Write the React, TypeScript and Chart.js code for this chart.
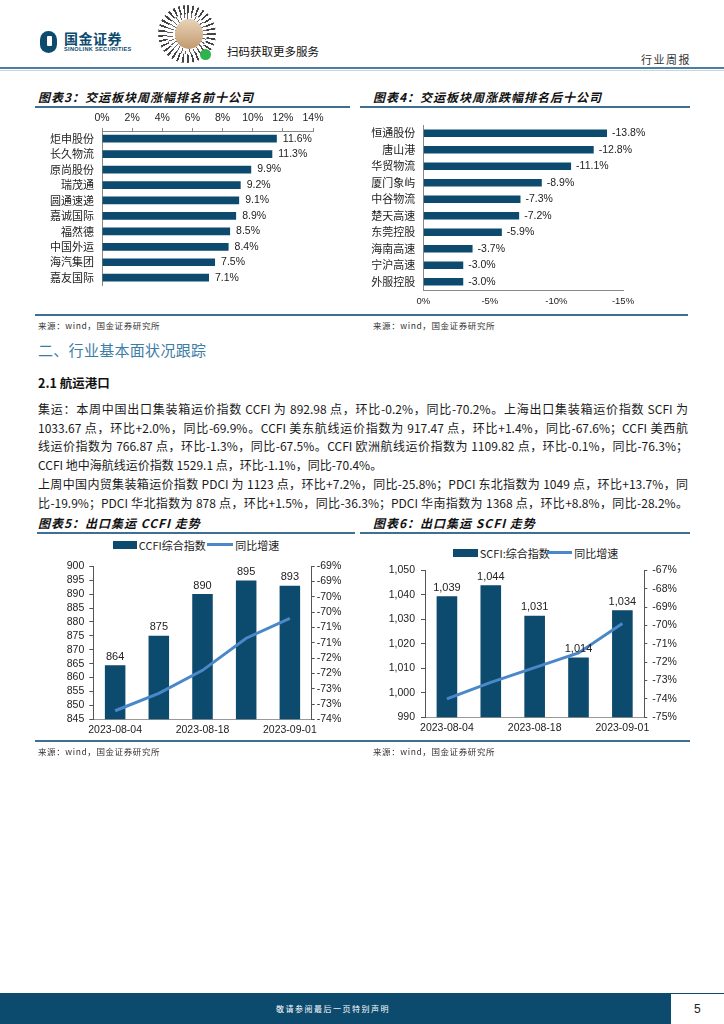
import React, { useEffect, useRef } from 'react';
import { Chart, registerables } from 'chart.js';

Chart.register(...registerables);

// ---------- data ----------
const topNames = ['炬申股份', '长久物流', '原尚股份', '瑞茂通', '圆通速递', '嘉诚国际', '福然德', '中国外运', '海汽集团', '嘉友国际'];
const topValues = [11.6, 11.3, 9.9, 9.2, 9.1, 8.9, 8.5, 8.4, 7.5, 7.1];

const bottomNames = ['恒通股份', '唐山港', '华贸物流', '厦门象屿', '中谷物流', '楚天高速', '东莞控股', '海南高速', '宁沪高速', '外服控股'];
const bottomValues = [-13.8, -12.8, -11.1, -8.9, -7.3, -7.2, -5.9, -3.7, -3.0, -3.0];

const weekDates = ['2023-08-04', '2023-08-11', '2023-08-18', '2023-08-25', '2023-09-01'];
const ccfiValues = [864.4, 875.0, 890.0, 894.9, 892.98];
const ccfiYoY = [-73.22, -72.65, -71.9, -70.85, -70.2];
const scfiValues = [1039.4, 1043.9, 1031.4, 1014.4, 1033.67];
const scfiYoY = [-74.0, -73.1, -72.3, -71.5, -69.9];

const bodyLines = [
  '集运：本周中国出口集装箱运价指数 CCFI 为 892.98 点，环比-0.2%，同比-70.2%。上海出口集装箱运价指数 SCFI 为',
  '1033.67 点，环比+2.0%，同比-69.9%。CCFI 美东航线运价指数为 917.47 点，环比+1.4%，同比-67.6%；CCFI 美西航',
  '线运价指数为 766.87 点，环比-1.3%，同比-67.5%。CCFI 欧洲航线运价指数为 1109.82 点，环比-0.1%，同比-76.3%；',
  'CCFI 地中海航线运价指数 1529.1 点，环比-1.1%，同比-70.4%。',
  '上周中国内贸集装箱运价指数 PDCI 为 1123 点，环比+7.2%，同比-25.8%；PDCI 东北指数为 1049 点，环比+13.7%，同',
  '比-19.9%；PDCI 华北指数为 878 点，环比+1.5%，同比-36.3%；PDCI 华南指数为 1368 点，环比+8.8%，同比-28.2%。',
];
const justifiedLine = [true, true, true, false, true, true];

// ---------- style ----------
const BAR = '#0c4a6e';
const LINE = '#4a88c9';
const RULE = '#3f6f92';
const FONT = "'Liberation Sans', 'Noto Sans CJK SC', sans-serif";
const CJK = "'Noto Sans CJK SC', 'Liberation Sans', sans-serif";
const TXT = '#222';

const valueLabels = {
  id: 'valueLabels',
  afterDatasetsDraw(chart: any, _args: any, opts: any) {
    if (!opts || !opts.enabled) return;
    const idx = opts.datasetIndex ?? 0;
    const meta = chart.getDatasetMeta(idx);
    const data = chart.data.datasets[idx].data;
    const ctx = chart.ctx;
    ctx.save();
    ctx.font = opts.font;
    ctx.fillStyle = opts.color;
    meta.data.forEach((el: any, i: number) => {
      const text = opts.formatter(data[i]);
      if (opts.horizontal) {
        ctx.textAlign = 'left';
        ctx.textBaseline = 'middle';
        ctx.fillText(text, Math.max(el.x, el.base) + opts.offset, el.y);
      } else {
        ctx.textAlign = 'center';
        ctx.textBaseline = 'bottom';
        ctx.fillText(text, el.x, el.y - opts.offset);
      }
    });
    ctx.restore();
  },
};

const baseOptions = {
  responsive: false,
  animation: false as const,
  devicePixelRatio: 1,
};

function ChartBox({ left, top, width, height, make }: any) {
  const ref = useRef<HTMLCanvasElement | null>(null);
  useEffect(() => {
    const chart = new Chart(ref.current as HTMLCanvasElement, make());
    return () => chart.destroy();
  }, []);
  return (
    <canvas
      ref={ref}
      width={width}
      height={height}
      style={{ position: 'absolute', left, top, width, height }}
    />
  );
}

Chart.defaults.font.family = FONT;
Chart.defaults.color = TXT;

function makeTop(): any {
  return {
    type: 'bar',
    data: {
      labels: topNames,
      datasets: [{ data: topValues, backgroundColor: BAR, barPercentage: 0.5, categoryPercentage: 1 }],
    },
    options: {
      ...baseOptions,
      indexAxis: 'y',
      layout: { padding: { left: 0, right: 42, top: 0, bottom: 4.5 } },
      plugins: {
        legend: { display: false },
        tooltip: { enabled: false },
        valueLabels: {
          enabled: true, horizontal: true, offset: 6, color: TXT,
          font: `10.5px ${FONT}`, formatter: (v: number) => v.toFixed(1) + '%',
        },
      },
      scales: {
        x: {
          position: 'top', min: 0, max: 14,
          ticks: { stepSize: 2, autoSkip: false, callback: (v: any) => v + '%', font: { size: 10.5 }, color: TXT, padding: 4 },
          grid: { display: true, drawOnChartArea: false, drawTicks: true, tickLength: 3, color: '#888' },
          border: { display: true, color: '#888' },
          afterFit: (s: any) => { s.height = 21; },
        },
        y: {
          ticks: { autoSkip: false, font: { family: CJK, size: 11 }, color: TXT, padding: 8 },
          grid: { display: true, drawOnChartArea: false, drawTicks: false },
          border: { display: true, color: '#888' },
          afterFit: (s: any) => { s.width = 72; },
        },
      },
    },
    plugins: [valueLabels],
  };
}

function makeBottom(): any {
  return {
    type: 'bar',
    data: {
      labels: bottomNames,
      datasets: [{ data: bottomValues, backgroundColor: BAR, barPercentage: 0.45, categoryPercentage: 1 }],
    },
    options: {
      ...baseOptions,
      indexAxis: 'y',
      layout: { padding: { left: 0, right: 77, top: 15, bottom: 0 } },
      plugins: {
        legend: { display: false },
        tooltip: { enabled: false },
        valueLabels: {
          enabled: true, horizontal: true, offset: 5, color: TXT,
          font: `10.5px ${FONT}`, formatter: (v: number) => v.toFixed(1) + '%',
        },
      },
      scales: {
        x: {
          position: 'bottom', min: -15, max: 0, reverse: true,
          ticks: { stepSize: 5, autoSkip: false, callback: (v: any) => v + '%', font: { size: 9.5 }, color: TXT, padding: 6 },
          grid: { display: true, drawOnChartArea: false, drawTicks: false, color: '#888' },
          border: { display: true, color: '#888' },
          afterFit: (s: any) => { s.height = 20; },
        },
        y: {
          ticks: { autoSkip: false, font: { family: CJK, size: 11 }, color: TXT, padding: 8 },
          grid: { display: true, drawOnChartArea: false, drawTicks: false },
          border: { display: true, color: '#888' },
          afterFit: (s: any) => { s.width = 63.3; },
        },
      },
    },
    plugins: [valueLabels],
  };
}

function makeCombo(
  values: number[], yoy: number[],
  leftMin: number, leftMax: number, leftStep: number, leftFmt: (v: number) => string,
  rightMin: number, rightMax: number, rightStep: number, rightFmt: (v: number) => string,
  dims: { lw: number; rw: number; top: number; bh: number; lpad: number; rpad: number },
): any {
  return {
    type: 'bar',
    data: {
      labels: weekDates,
      datasets: [
        { type: 'line', data: yoy, yAxisID: 'y1', borderColor: LINE, borderWidth: 3, pointRadius: 0, tension: 0, order: 0 },
        { type: 'bar', data: values, yAxisID: 'y', backgroundColor: BAR, barPercentage: 0.47, categoryPercentage: 1, order: 1 },
      ],
    },
    options: {
      ...baseOptions,
      layout: { padding: { left: 0, right: 0, top: dims.top, bottom: 0 } },
      plugins: {
        legend: { display: false },
        tooltip: { enabled: false },
        valueLabels: {
          enabled: true, datasetIndex: 1, offset: 3, color: TXT,
          font: `11px ${FONT}`, formatter: (v: number) => Math.round(v).toLocaleString('en-US'),
        },
      },
      scales: {
        x: {
          ticks: {
            autoSkip: false, maxRotation: 0, font: { size: 10.5 }, color: TXT, padding: 5,
            callback: (_v: any, i: number) => (i % 2 === 0 ? weekDates[i] : ''),
          },
          grid: { display: true, drawOnChartArea: false, drawTicks: false },
          border: { display: true, color: '#999' },
          afterFit: (s: any) => { s.height = dims.bh; },
        },
        y: {
          position: 'left', min: leftMin, max: leftMax,
          ticks: { stepSize: leftStep, autoSkip: false, callback: (v: any) => leftFmt(v), font: { size: 10.5 }, color: TXT, padding: dims.lpad },
          grid: { display: true, drawOnChartArea: false, drawTicks: true, tickLength: 4, color: '#555' },
          border: { display: true, color: '#555' },
          afterFit: (s: any) => { s.width = dims.lw; },
        },
        y1: {
          position: 'right', min: rightMin, max: rightMax,
          ticks: { stepSize: rightStep, autoSkip: false, callback: (v: any) => rightFmt(v), font: { size: 10.5 }, color: TXT, padding: dims.rpad },
          grid: { display: true, drawOnChartArea: false, drawTicks: true, tickLength: 3, color: '#555' },
          border: { display: true, color: '#555' },
          afterFit: (s: any) => { s.width = dims.rw; },
        },
      },
    },
    plugins: [valueLabels],
  };
}

const makeCcfi = () =>
  makeCombo(
    ccfiValues, ccfiYoY,
    845, 900, 5, (v) => String(v),
    -73.5, -68.5, 0.5, (v) => '-' + Math.round(-v) + '%',
    { lw: 63.3, rw: 48.3, top: 8.3, bh: 21.7, lpad: 5, rpad: 2 },
  );

const makeScfi = () =>
  makeCombo(
    scfiValues, scfiYoY,
    990, 1050, 10, (v) => v.toLocaleString('en-US'),
    -75, -67, 1, (v) => Math.round(v) + '%',
    { lw: 65, rw: 55.7, top: 8, bh: 23.7, lpad: 6, rpad: 5 },
  );

// ---------- small layout helpers ----------
const abs = (left: number, top: number, extra: any = {}) => ({ position: 'absolute' as const, left, top, ...extra });

function Title({ x, y, text }: { x: number; y: number; text: string }) {
  return (
    <div style={abs(x, y - 9, { fontSize: 12, lineHeight: '18px', fontWeight: 700, fontStyle: 'italic', letterSpacing: 1, whiteSpace: 'nowrap', fontFamily: CJK, color: '#111' })}>
      {text}
    </div>
  );
}

function Rule({ x1, x2, y, color = RULE, h = 1.5 }: any) {
  return <div style={abs(x1, y - h / 2, { width: x2 - x1, height: h, background: color })} />;
}

function Source({ x, y }: { x: number; y: number }) {
  return (
    <div style={abs(x, y - 7, { fontSize: 8.5, lineHeight: '14px', letterSpacing: 0.6, whiteSpace: 'nowrap', color: '#333' })}>
      来源：wind，国金证券研究所
    </div>
  );
}

function LegendBox({ x1, x2, y, text }: any) {
  return (
    <>
      <div style={abs(x1, y - 4, { width: x2 - x1, height: 8, background: BAR })} />
      <div style={abs(x2 + 1.5, y - 8, { fontSize: 11, lineHeight: '16px', whiteSpace: 'nowrap', color: TXT })}>{text}</div>
    </>
  );
}

function LegendLine({ x1, x2, y, text }: any) {
  return (
    <>
      <div style={abs(x1, y - 1.5, { width: x2 - x1, height: 3, background: LINE })} />
      <div style={abs(x2 + 2, y - 8, { fontSize: 11, lineHeight: '16px', whiteSpace: 'nowrap', color: TXT })}>{text}</div>
    </>
  );
}

export default function App() {
  return (
    <div style={{ position: 'absolute', left: 0, top: 0, width: 724, height: 1024, background: '#fff', overflow: 'hidden', fontFamily: CJK, color: TXT }}>
      {/* header */}
      <div style={abs(40, 31, { width: 17, height: 22, background: BAR, borderRadius: 9 })} />
      <div style={abs(47, 36, { width: 5, height: 10, background: '#fff', borderRadius: 1 })} />
      <div style={abs(64, 29, { fontSize: 14, lineHeight: '18px', fontWeight: 700, color: BAR, letterSpacing: 0.5, whiteSpace: 'nowrap' })}>国金证券</div>
      <div style={abs(64, 46, { fontSize: 5.6, lineHeight: '7px', fontWeight: 700, color: BAR, fontFamily: FONT, whiteSpace: 'nowrap', letterSpacing: 0.3 })}>SINOLINK SECURITIES</div>
      <div style={abs(158, 5, { width: 58, height: 58, borderRadius: '50%', background: 'repeating-conic-gradient(#444 0deg 4deg, #fff 4deg 11deg)' })} />
      <div style={abs(167, 14, { width: 40, height: 40, borderRadius: '50%', background: 'repeating-conic-gradient(#666 0deg 3deg, #fff 3deg 13deg)' })} />
      <div style={abs(175, 19, { width: 28, height: 30, borderRadius: '50%', background: 'linear-gradient(#e8d3b8, #c29a6d)' })} />
      <div style={abs(200, 49, { width: 11, height: 11, borderRadius: '50%', background: '#2fb34c' })} />
      <div style={abs(227, 43, { fontSize: 11.5, lineHeight: '16px', whiteSpace: 'nowrap', color: '#111' })}>扫码获取更多服务</div>
      <div style={abs(641, 51, { fontSize: 11, lineHeight: '16px', letterSpacing: 1.5, whiteSpace: 'nowrap', color: '#333' })}>行业周报</div>
      <Rule x1={0} x2={724} y={68} color="#4d7d9f" h={2} />
      <Rule x1={0} x2={724} y={70} color="#c9d6e0" h={1} />

      {/* chart 3 & 4 */}
      <Title x={38} y={97} text="图表3：交运板块周涨幅排名前十公司" />
      <Rule x1={35} x2={350} y={107} />
      <Title x={373} y={97} text="图表4：交运板块周涨跌幅排名后十公司" />
      <Rule x1={360} x2={690} y={107} />
      <ChartBox left={30} top={110} width={325} height={190} make={makeTop} />
      <ChartBox left={360} top={110} width={340} height={200} make={makeBottom} />
      <Rule x1={35} x2={688} y={315} />
      <Source x={38} y={325} />
      <Source x={373} y={325} />

      {/* section text */}
      <div style={abs(38, 340, { fontSize: 15, lineHeight: '20px', color: '#3c7da6', whiteSpace: 'nowrap', letterSpacing: 0.3 })}>二、行业基本面状况跟踪</div>
      <div style={abs(38, 374, { fontSize: 12.5, lineHeight: '18px', fontWeight: 700, color: '#111', whiteSpace: 'nowrap' })}>2.1 航运港口</div>
      {bodyLines.map((t, i) => (
        <div
          key={i}
          style={abs(38, 398.8 + i * 18.8, {
            width: 650, height: 19, fontSize: 12, lineHeight: '19px', whiteSpace: 'nowrap', overflow: 'visible',
            textAlign: justifiedLine[i] ? 'justify' : 'left',
            textAlignLast: justifiedLine[i] ? 'justify' : 'left',
            color: '#1a1a1a',
          })}
        >
          {t}
        </div>
      ))}

      {/* chart 5 & 6 */}
      <Title x={38} y={523} text="图表5：出口集运 CCFI 走势" />
      <Rule x1={37} x2={355} y={533} />
      <Title x={373} y={523} text="图表6：出口集运 SCFI 走势" />
      <Rule x1={360} x2={690} y={533} />
      <LegendBox x1={112.7} x2={137.3} y={544.5} text="CCFI综合指数" />
      <LegendLine x1={206.7} x2={233.3} y={544.5} text="同比增速" />
      <LegendBox x1={453.3} x2={478.3} y={552.8} text="SCFI:综合指数" />
      <LegendLine x1={546.7} x2={572.3} y={552.8} text="同比增速" />
      <ChartBox left={30} top={555} width={330} height={186} make={makeCcfi} />
      <ChartBox left={360} top={558} width={340} height={183} make={makeScfi} />
      <Rule x1={35} x2={690} y={741} />
      <Source x={38} y={751} />
      <Source x={373} y={751} />

      {/* footer */}
      <Rule x1={0} x2={724} y={993.5} color={BAR} h={1} />
      <div style={abs(0, 994, { width: 671, height: 30, background: BAR })} />
      <div style={abs(0, 1001, { width: 666, textAlign: 'center', fontSize: 8, lineHeight: '16px', letterSpacing: 1.5, color: '#fff', whiteSpace: 'nowrap' })}>敬请参阅最后一页特别声明</div>
      <div style={abs(694, 1001, { fontSize: 12, lineHeight: '16px', fontFamily: FONT, color: '#222' })}>5</div>
    </div>
  );
}
